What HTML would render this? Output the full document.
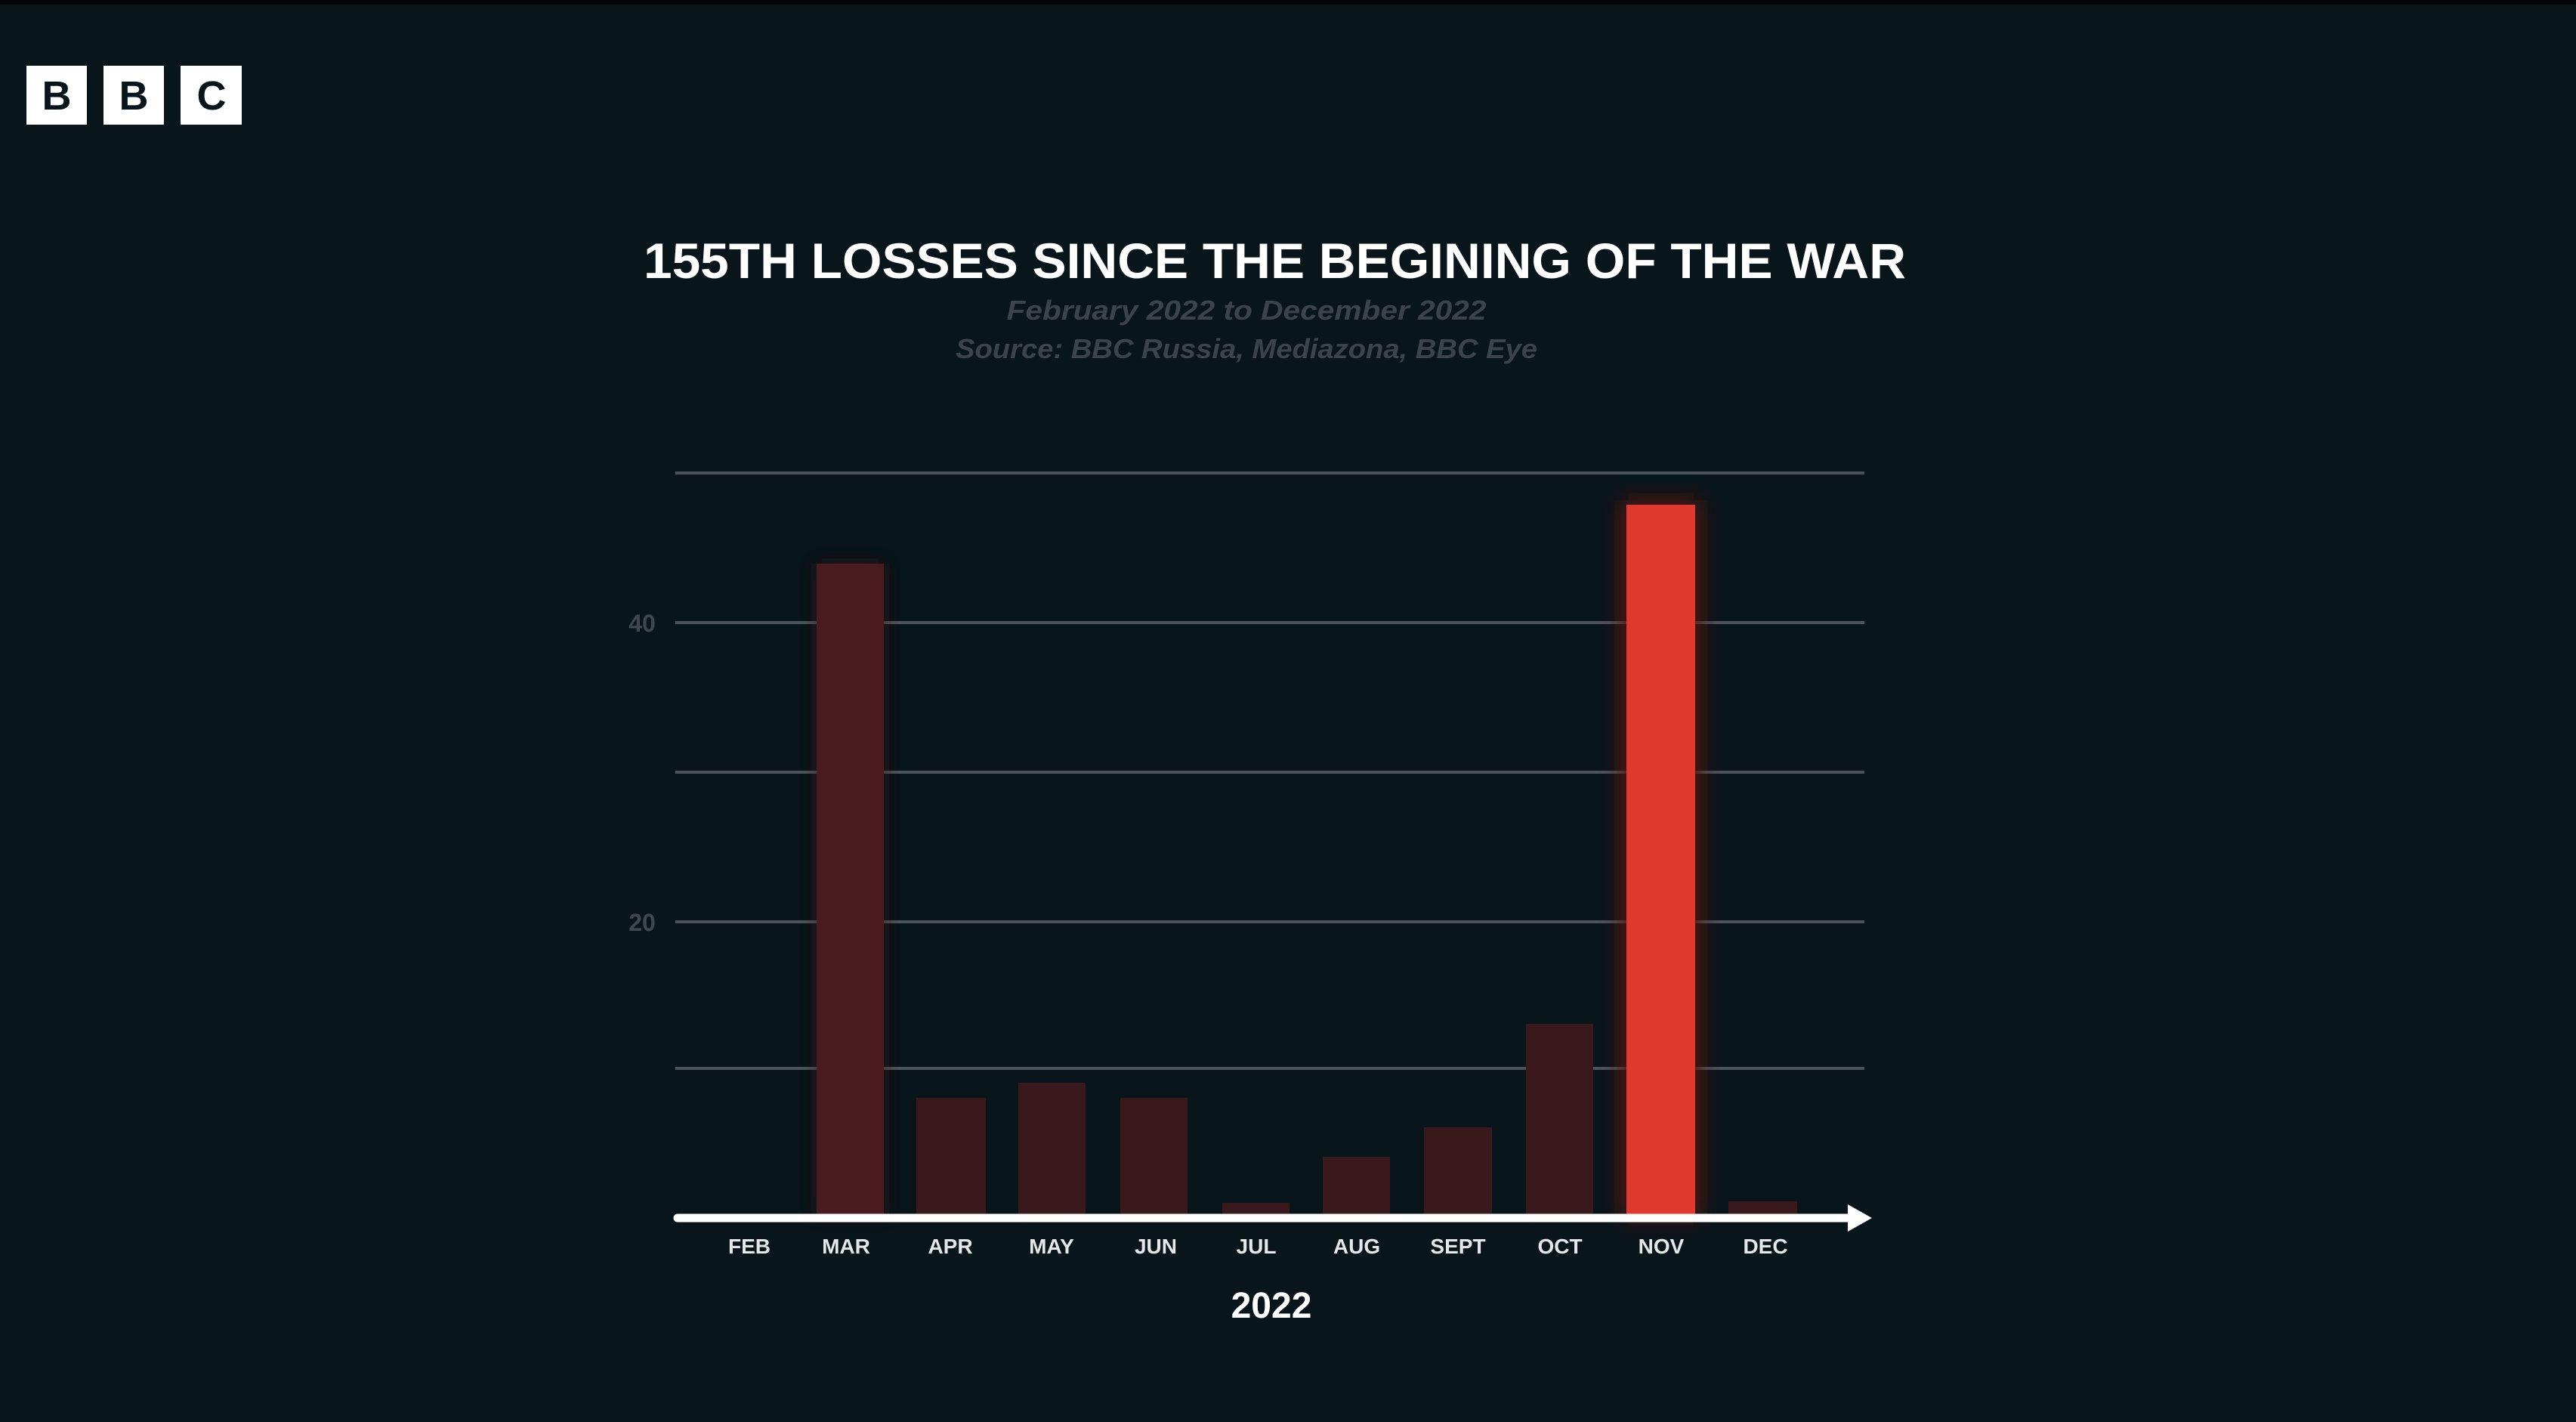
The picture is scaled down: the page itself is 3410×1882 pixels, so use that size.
<!DOCTYPE html>
<html><head><meta charset="utf-8"><style>
html,body{margin:0;padding:0;background:#08151b;}
svg{display:block}
text{font-family:"Liberation Sans Narrow","Liberation Sans",sans-serif;}
</style></head><body>
<svg width="3410" height="1882" viewBox="0 0 3410 1882" xmlns="http://www.w3.org/2000/svg">
<defs>
<filter id="glow" x="-100%" y="-20%" width="300%" height="140%"><feGaussianBlur stdDeviation="14"/></filter>
<filter id="glow2" x="-100%" y="-20%" width="300%" height="140%"><feGaussianBlur stdDeviation="10"/></filter>
</defs>
<rect width="3410" height="1882" fill="#08151b"/>
<rect width="3410" height="6" fill="#020608"/>
<!-- BBC logo -->
<g fill="#ffffff">
<rect x="35" y="87" width="80" height="78"/><rect x="137" y="87" width="80" height="78"/><rect x="239" y="87" width="81" height="78"/>
</g>
<g font-weight="bold" font-size="54" fill="#08151b" text-anchor="middle">
<text x="75" y="145" style="font-family:'Liberation Sans',sans-serif">B</text>
<text x="177" y="145" style="font-family:'Liberation Sans',sans-serif">B</text>
<text x="280" y="145" style="font-family:'Liberation Sans',sans-serif">C</text>
</g>
<!-- title -->
<text x="852" y="368" font-size="66" font-weight="bold" fill="#ffffff" textLength="1671" lengthAdjust="spacingAndGlyphs">155TH LOSSES SINCE THE BEGINING OF THE WAR</text>
<text x="1650" y="423" font-size="36" font-style="italic" font-weight="bold" fill="#3a444a" text-anchor="middle" textLength="635" lengthAdjust="spacingAndGlyphs">February 2022 to December 2022</text>
<text x="1650" y="474" font-size="36" font-style="italic" font-weight="bold" fill="#3a444a" text-anchor="middle" textLength="770" lengthAdjust="spacingAndGlyphs">Source: BBC Russia, Mediazona, BBC Eye</text>
<!-- gridlines -->
<g stroke="#4a5459" stroke-width="4">
<line x1="894" y1="626" x2="2468" y2="626"/>
<line x1="894" y1="824" x2="2468" y2="824"/>
<line x1="894" y1="1022" x2="2468" y2="1022"/>
<line x1="894" y1="1220" x2="2468" y2="1220"/>
<line x1="894" y1="1414" x2="2468" y2="1414"/>
</g>
<g font-size="32" font-weight="bold" fill="#3e484e" text-anchor="middle">
<text x="850" y="836">40</text>
<text x="850" y="1232">20</text>
</g>
<!-- bars -->
<g fill="#3a191d">
<rect x="1213" y="1453" width="92" height="156"/>
<rect x="1348" y="1433" width="89" height="176"/>
<rect x="1483" y="1453" width="89" height="156"/>
<rect x="1618" y="1592" width="89" height="17"/>
<rect x="1751" y="1531" width="89" height="78"/>
<rect x="1885" y="1492" width="90" height="117"/>
<rect x="2020" y="1355" width="89" height="254"/>
<rect x="2288" y="1590" width="91" height="19"/>
</g>
<rect x="1081" y="746" width="89" height="863" fill="#3a1418" filter="url(#glow2)" opacity="0.7"/>
<rect x="1081" y="746" width="89" height="863" fill="#4b1c1f"/>
<rect x="2146" y="662" width="105" height="950" fill="#5a1410" filter="url(#glow)"/>
<rect x="2153" y="668" width="91" height="941" fill="#e0392d"/>
<!-- axis -->
<line x1="897" y1="1612" x2="2450" y2="1612" stroke="#ffffff" stroke-width="11" stroke-linecap="round"/>
<polygon points="2446,1594 2478,1612 2446,1630" fill="#ffffff"/>
<!-- month labels -->
<g font-size="28" font-weight="bold" fill="#e4e8ea" text-anchor="middle">
<text x="992" y="1659">FEB</text>
<text x="1120" y="1659">MAR</text>
<text x="1258" y="1659">APR</text>
<text x="1392" y="1659">MAY</text>
<text x="1530" y="1659">JUN</text>
<text x="1663" y="1659">JUL</text>
<text x="1796" y="1659">AUG</text>
<text x="1930" y="1659">SEPT</text>
<text x="2065" y="1659">OCT</text>
<text x="2199" y="1659">NOV</text>
<text x="2337" y="1659">DEC</text>
</g>
<text x="1683" y="1744" font-size="48" font-weight="bold" fill="#ffffff" text-anchor="middle">2022</text>
</svg>
</body></html>
